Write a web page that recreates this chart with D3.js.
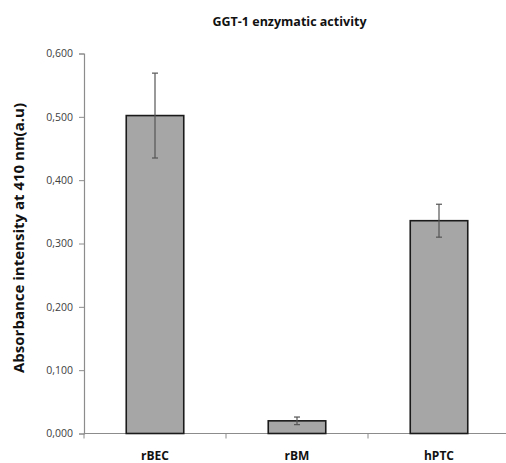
<!DOCTYPE html>
<html>
<head>
<meta charset="utf-8">
<script src="https://cdn.jsdelivr.net/npm/d3@7"></script>
<style>
  html, body { margin: 0; padding: 0; background: #fff; }
  svg { display: block; }
</style>
</head>
<body>
<svg id="chart" width="506" height="463"></svg>
<script>
// GGT-1 activity per cell type (absorbance at 410 nm, mean ± error)
const categories = ["rBEC", "rBM", "hPTC"];
const means = [0.502, 0.020, 0.336];
const errors = [0.067, 0.006, 0.026];
const yTicks = [0, 0.1, 0.2, 0.3, 0.4, 0.5, 0.6];

const svg = d3.select("#chart");
const margin = { left: 84, right: -4, top: 53.5, bottom: 29.5 };
const W = 506, H = 463;

const x = d3.scaleBand()
  .domain(categories)
  .range([margin.left, W - margin.right])
  .paddingInner(0.595)
  .paddingOuter(0.2975);

const y = d3.scaleLinear()
  .domain([0, 0.6])
  .range([H - margin.bottom, margin.top]);

const locale = d3.formatLocale({ decimal: ",", thousands: ".", grouping: [3], currency: ["", ""] });
const fmt = locale.format(".3f");

const axisColor = "#8c8c8c";
const font = "'Open Sans', 'DejaVu Sans', sans-serif";

// shrink or grow a text's font so that it spans the given length
function fitText(sel, length) {
  const node = sel.node();
  const fs = parseFloat(sel.style("font-size"));
  const w = node.getComputedTextLength();
  if (w > 0) sel.style("font-size", (fs * length / w).toFixed(2) + "px");
}

// y axis
const yAxis = svg.append("g")
  .attr("transform", `translate(${margin.left},0)`)
  .call(d3.axisLeft(y).tickValues(yTicks).tickFormat(fmt).tickSize(5).tickPadding(6));
yAxis.select(".domain").attr("stroke", axisColor).attr("stroke-width", 1.2);
yAxis.selectAll(".tick line").attr("stroke", axisColor);
yAxis.selectAll(".tick text")
  .attr("fill", "#404040")
  .style("font-family", font)
  .style("font-size", "10.5px");

// x axis: ticks sit on the boundaries between categories
const step = x.step();
const boundaries = d3.range(categories.length + 1).map(i => margin.left + i * step);
const xAxis = svg.append("g").attr("transform", `translate(0,${y(0)})`);
xAxis.append("line")
  .attr("x1", margin.left).attr("x2", W)
  .attr("stroke", axisColor).attr("stroke-width", 1.2);
xAxis.selectAll("line.tk").data(boundaries).join("line")
  .attr("class", "tk")
  .attr("x1", d => d).attr("x2", d => d)
  .attr("y1", 0).attr("y2", 5)
  .attr("stroke", axisColor);
xAxis.selectAll("text").data(categories).join("text")
  .attr("x", d => x(d) + x.bandwidth() / 2)
  .attr("y", 26.5)
  .attr("text-anchor", "middle")
  .attr("fill", "#111")
  .style("font-family", font)
  .style("font-weight", "bold")
  .style("font-size", "12px")
  .text(d => d);

// bars
const data = categories.map((c, i) => ({ c, m: means[i], e: errors[i] }));
svg.append("g").selectAll("rect").data(data).join("rect")
  .attr("x", d => x(d.c))
  .attr("y", d => y(d.m))
  .attr("width", x.bandwidth())
  .attr("height", d => y(0) - y(d.m))
  .attr("fill", "#a6a6a6")
  .attr("stroke", "#1a1a1a")
  .attr("stroke-width", 1.6);

// error bars
const eb = svg.append("g").attr("stroke", "#555").attr("stroke-width", 1.2);
data.forEach(d => {
  const cx = x(d.c) + x.bandwidth() / 2;
  eb.append("line").attr("x1", cx).attr("x2", cx).attr("y1", y(d.m + d.e)).attr("y2", y(d.m - d.e));
  [d.m + d.e, d.m - d.e].forEach(v => {
    eb.append("line").attr("x1", cx - 3).attr("x2", cx + 3).attr("y1", y(v)).attr("y2", y(v));
  });
});

// title
const title = svg.append("text")
  .attr("x", 289.5).attr("y", 26)
  .attr("text-anchor", "middle")
  .attr("fill", "#111")
  .style("font-family", font)
  .style("font-weight", "bold")
  .style("font-size", "12.6px")
  .text("GGT-1 enzymatic activity");
fitText(title, 154);

// y axis label
const yLabel = svg.append("text")
  .attr("transform", "translate(23.5,238) rotate(-90)")
  .attr("text-anchor", "middle")
  .attr("fill", "#111")
  .style("font-family", font)
  .style("font-weight", "bold")
  .style("font-size", "14px")
  .text("Absorbance intensity at 410 nm(a.u)");
fitText(yLabel, 270);
</script>
</body>
</html>
